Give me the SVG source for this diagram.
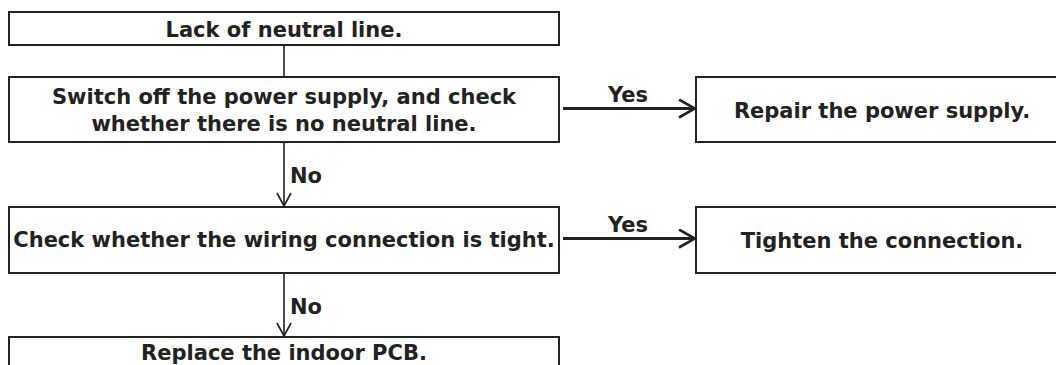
<svg xmlns="http://www.w3.org/2000/svg" width="1056" height="365" viewBox="0 0 1056 365">
<style>
.box{fill:#fff;stroke:#222;stroke-width:2}
.t{font-family:"DejaVu Sans","Liberation Sans",sans-serif;font-weight:bold;font-size:21px;fill:#222;text-anchor:middle}
.lbl{font-family:"DejaVu Sans","Liberation Sans",sans-serif;font-weight:bold;font-size:21px;fill:#222}
.thin{stroke:#222;stroke-width:1.6;fill:none}
.thick{stroke:#222;stroke-width:3;fill:none}
</style>
<defs>
<marker id="chevBig" viewBox="0 0 20 20" refX="18" refY="10" markerWidth="20" markerHeight="20" markerUnits="userSpaceOnUse" orient="auto">
<path d="M2,1 L18,10 L2,19" fill="none" stroke="#222" stroke-width="2.6"/>
</marker>
<marker id="chevSmall" viewBox="0 0 20 20" refX="16" refY="10" markerWidth="20" markerHeight="20" markerUnits="userSpaceOnUse" orient="auto">
<path d="M3,3 L16,10 L3,17" fill="none" stroke="#222" stroke-width="1.6"/>
</marker>
</defs>
<rect width="1056" height="365" fill="#fff"/>
<g id="connectors">
<line class="thin" x1="284" y1="45" x2="284" y2="77"/>
<line class="thin" x1="284" y1="142" x2="284" y2="206" marker-end="url(#chevSmall)"/>
<line class="thin" x1="284" y1="273" x2="284" y2="336" marker-end="url(#chevSmall)"/>
<line class="thick" x1="563" y1="108.5" x2="695" y2="108.5" marker-end="url(#chevBig)"/>
<line class="thick" x1="563" y1="238.5" x2="695" y2="238.5" marker-end="url(#chevBig)"/>
<text class="t" x="628" y="102">Yes</text>
<text class="t" x="628" y="232">Yes</text>
<text class="lbl" x="290" y="183">No</text>
<text class="lbl" x="290" y="314">No</text>
</g>
<g id="n1">
<rect class="box" x="9" y="12" width="550" height="33"/>
<text class="t" x="284" y="37">Lack of neutral line.</text>
</g>
<g id="n2">
<rect class="box" x="9" y="77" width="550" height="65"/>
<text class="t" x="284" y="104">Switch off the power supply, and check</text>
<text class="t" x="284" y="131">whether there is no neutral line.</text>
</g>
<g id="n3">
<rect class="box" x="696" y="77" width="372" height="65"/>
<text class="t" x="882" y="118">Repair the power supply.</text>
</g>
<g id="n4">
<rect class="box" x="9" y="207" width="550" height="66"/>
<text class="t" x="284" y="247">Check whether the wiring connection is tight.</text>
</g>
<g id="n5">
<rect class="box" x="696" y="207" width="372" height="66"/>
<text class="t" x="882" y="248">Tighten the connection.</text>
</g>
<g id="n6">
<rect class="box" x="9" y="337" width="550" height="50"/>
<text class="t" x="284" y="360">Replace the indoor PCB.</text>
</g>
</svg>
